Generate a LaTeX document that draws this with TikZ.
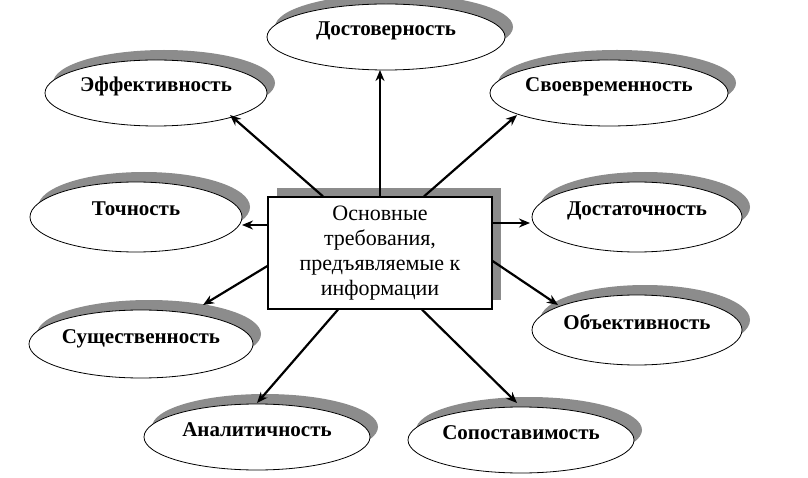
\documentclass[tikz,border=0pt]{standalone}
\usepackage{fontspec}
\setmainfont{Liberation Serif}
\usetikzlibrary{shapes.geometric,shadows,arrows.meta}
\definecolor{shgray}{RGB}{140,140,140}
\begin{document}
\begin{tikzpicture}[x=1pt,y=-1pt,
  oval/.style={ellipse, draw=black, line width=0.8pt, fill=white, inner sep=0pt,
    text height=10pt, text depth=12pt,
    font=\bfseries\fontsize{21}{24}\selectfont,
    drop shadow={shadow xshift=8pt, shadow yshift=10pt, fill=shgray, opacity=1}},
  mainbox/.style={rectangle, draw=black, line width=1.2pt, fill=white, inner sep=2pt,
    minimum width=224pt, minimum height=112pt, align=center,
    font=\fontsize{22}{25}\selectfont,
    drop shadow={shadow xshift=9pt, shadow yshift=9pt, fill=shgray, opacity=1}},
  arr/.style={line width=2.2pt, -{Stealth[length=11pt,width=9pt]}}]
\useasboundingbox (0,0) rectangle (808,478);
\node[mainbox] (m) at (380,253) {Основные\\требования,\\предъявляемые к\\информации};
\node[oval, minimum width=238pt, minimum height=66pt] (dost) at (386,37) {Достоверность};
\node[oval, minimum width=222pt, minimum height=66pt] (eff) at (156,93) {Эффективность};
\node[oval, minimum width=238pt, minimum height=66pt] (svo) at (609,93) {Своевременность};
\node[oval, minimum width=212pt, minimum height=70pt] (toch) at (136,217) {Точность};
\node[oval, minimum width=210pt, minimum height=70pt] (dosta) at (637,217) {Достаточность};
\node[oval, minimum width=224pt, minimum height=68pt] (sush) at (141,344) {Существенность};
\node[oval, minimum width=210pt, minimum height=70pt] (obj) at (637,330) {Объективность};
\node[oval, minimum width=226pt, minimum height=66pt] (anal) at (257,437) {Аналитичность};
\node[oval, minimum width=226pt, minimum height=66pt] (sop) at (521,440) {Сопоставимость};
\coordinate (s1) at (m.north -| 380,0);
\coordinate (s2) at (m.north -| 323,0);
\coordinate (s3) at (m.north -| 424,0);
\coordinate (s4) at (m.west |- 0,225);
\coordinate (s5) at (m.east |- 0,223);
\coordinate (s6) at (m.west |- 0,266);
\coordinate (s7) at (m.east |- 0,261);
\coordinate (s8) at (m.south -| 338,0);
\coordinate (s9) at (m.south -| 422,0);
\draw[arr] (s1) -- ([shift={(-6,33)}]dost.center);
\draw[arr] (s2) -- ([shift={(74,22)}]eff.center);
\draw[arr] (s3) -- ([shift={(-92,22)}]svo.center);
\draw[arr] (s4) -- ([shift={(106,8)}]toch.center);
\draw[arr] (s5) -- ([shift={(-107,6)}]dosta.center);
\draw[arr] (s6) -- ([shift={(62,-39)}]sush.center);
\draw[arr] (s7) -- ([shift={(-79,-25)}]obj.center);
\draw[arr] (s8) -- ([shift={(0,-34)}]anal.center);
\draw[arr] (s9) -- ([shift={(-4,-37)}]sop.center);
\end{tikzpicture}
\end{document}
